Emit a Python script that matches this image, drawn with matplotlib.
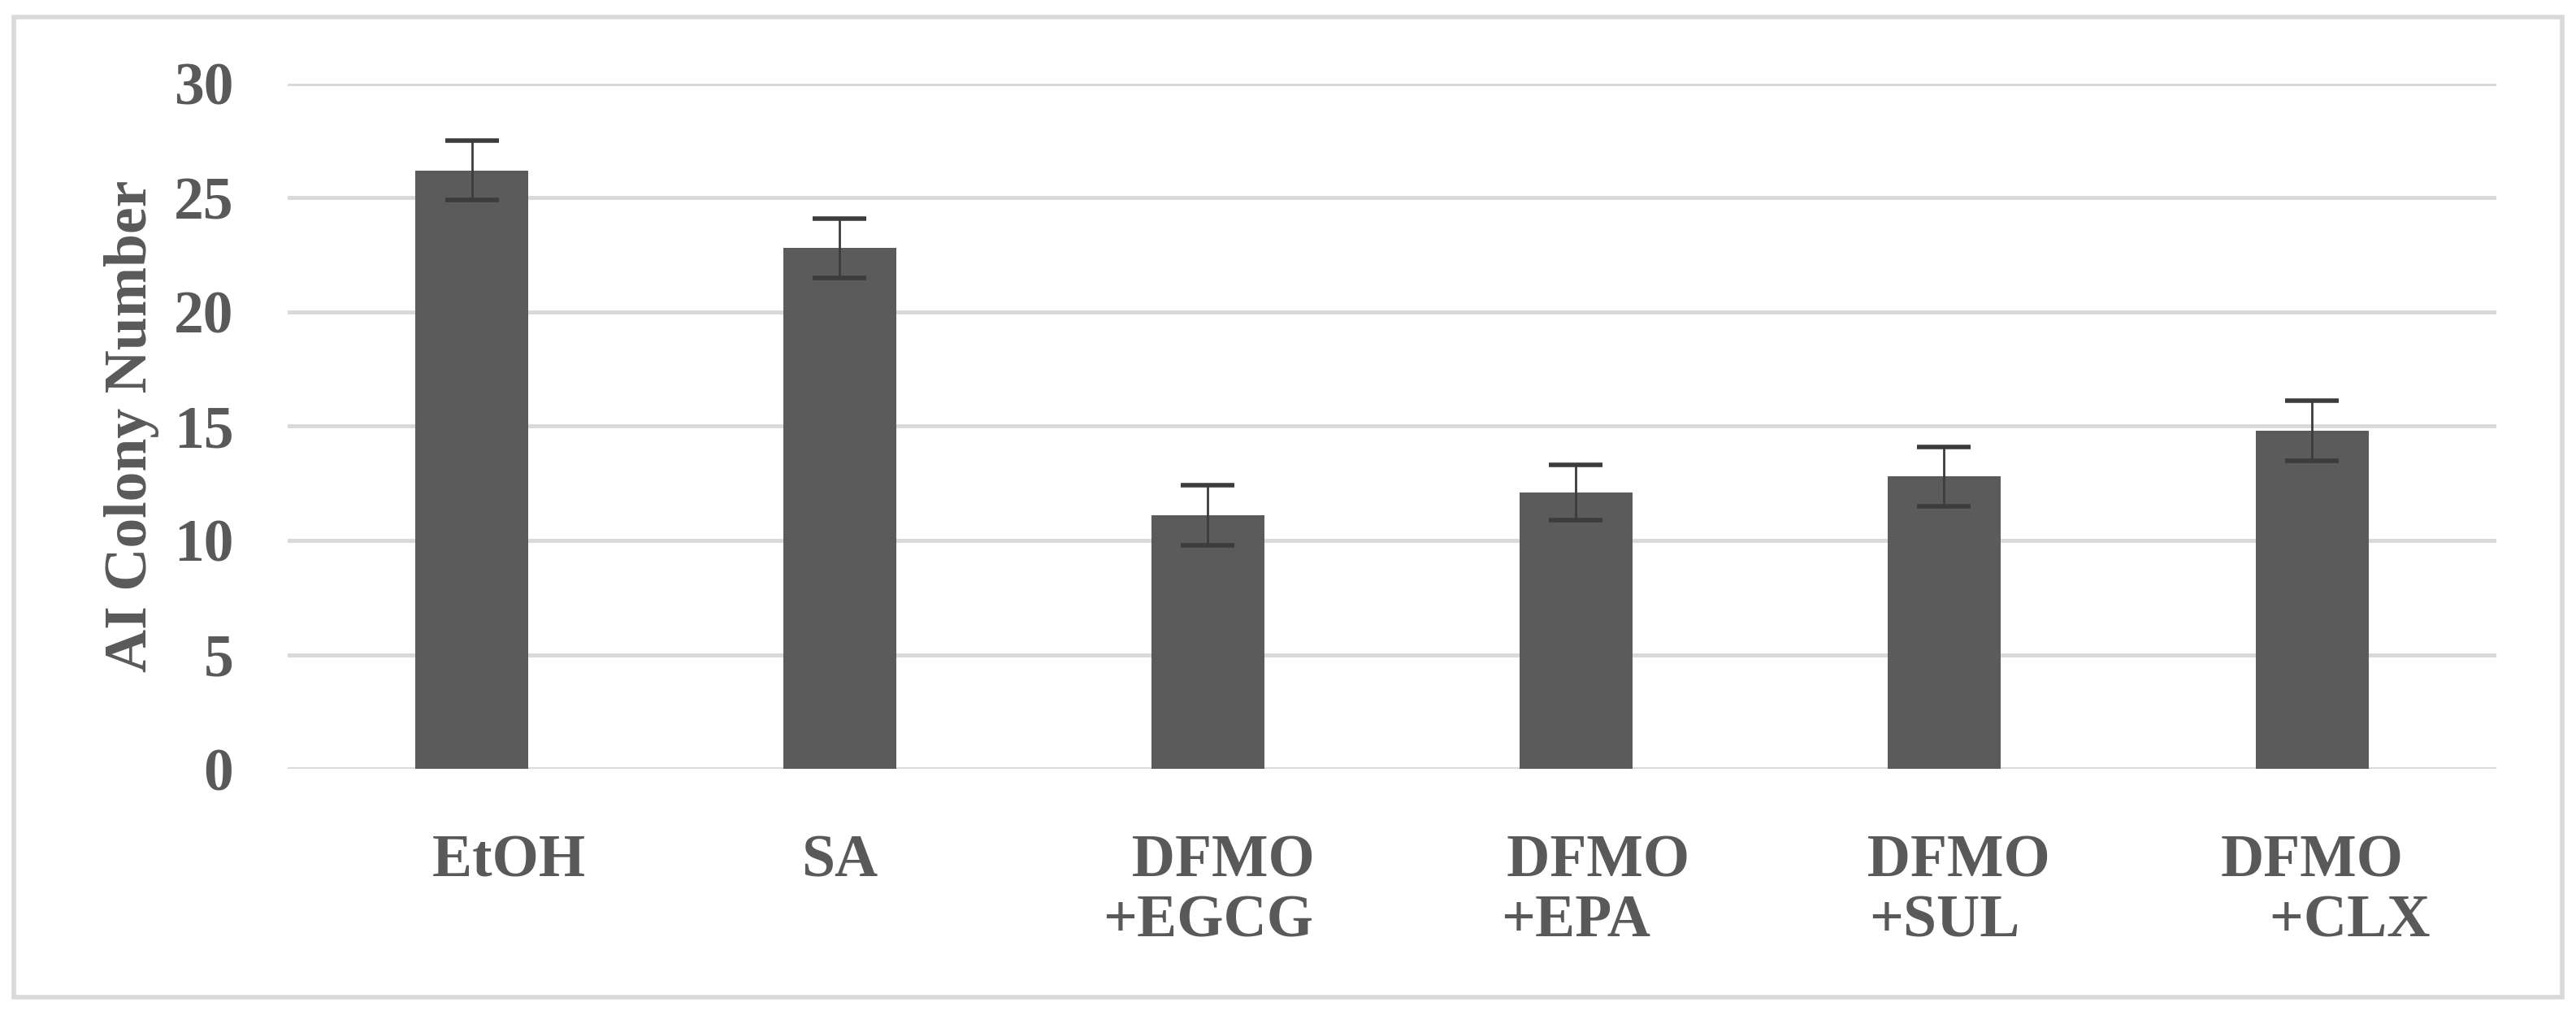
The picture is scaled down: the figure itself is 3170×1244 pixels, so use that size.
import matplotlib
matplotlib.use("Agg")
from matplotlib import pyplot as plt
from matplotlib.patches import Rectangle

# treatment groups and their mean colony counts with error
groups = ["     EtOH", "SA", "  DFMO\n+EGCG", "   DFMO\n+EPA", "  DFMO\n+SUL", "DFMO\n     +CLX"]
colony_means = [26.2, 22.8, 11.1, 12.1, 12.8, 14.8]
colony_err = [1.3, 1.3, 1.3, 1.2, 1.3, 1.3]
y_ticks = [0, 5, 10, 15, 20, 25, 30]

text_color = "#595959"
plt.rcParams["font.family"] = ["Liberation Serif", "DejaVu Serif"]
plt.rcParams["font.weight"] = "bold"

fig = plt.figure(figsize=(31.7, 12.44), dpi=100)
ax = fig.add_axes([0.1117, 0.2395, 0.969 - 0.1117, 0.9174 - 0.2395])

# light grey frame round the whole chart
fig.patches.append(Rectangle((17 / 3170, 17 / 1244), 1 - 34 / 3170, 1 - 38 / 1244,
                             transform=fig.transFigure, fill=False,
                             edgecolor="#d9d9d9", linewidth=4))

x = list(range(len(groups)))
ax.bar(x, colony_means, width=0.307, color="#5b5b5b", zorder=2,
       yerr=colony_err,
       error_kw=dict(ecolor="#3c3c3c", elinewidth=2, capsize=24, capthick=4, zorder=3))

ax.set_xlim(-0.5, len(groups) - 0.5)
ax.set_ylim(0, 30)
ax.set_yticks(y_ticks)
ax.set_xticks(x)
ax.set_xticklabels(groups, linespacing=1.11)

ax.yaxis.grid(True, color="#d9d9d9", linewidth=3.5, zorder=0)
ax.set_axisbelow(True)
for s in ax.spines.values():
        s.set_visible(False)

ax.tick_params(axis="both", length=0, labelsize=53, labelcolor=text_color)
ax.tick_params(axis="y", pad=48)
ax.tick_params(axis="x", pad=58)

ax.set_ylabel("AI Colony Number", fontsize=53, color=text_color, fontweight="bold", labelpad=13)

plt.savefig("out.png", dpi=100)
